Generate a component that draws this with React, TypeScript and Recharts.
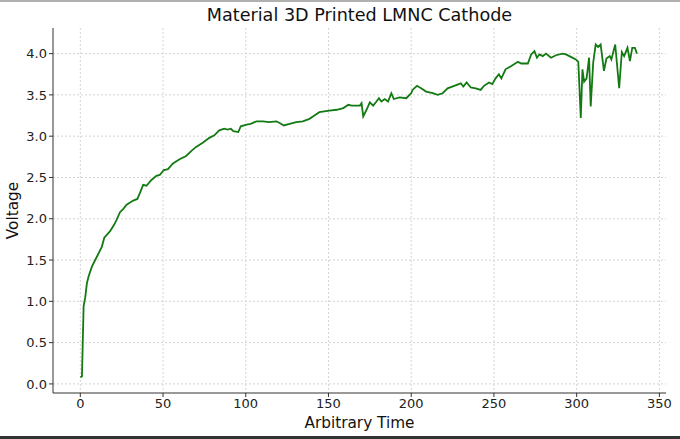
import { LineChart, Line, XAxis, YAxis, CartesianGrid } from 'recharts';

const times = [
  0, 1, 2, 3, 4, 5, 7, 10, 13, 14.5, 18, 20.5, 22, 24, 26, 28, 32, 34.5, 36, 38, 40, 43, 46, 48,
  50.5, 53, 56, 60, 64, 67, 70, 74, 78, 81, 84, 87, 89, 91, 92.5, 95.5, 97, 100.5, 103, 106.5,
  110.5, 114, 118.5, 120.5, 123, 126.5, 130.5, 134.5, 138.5, 141.5, 144.5, 150.5, 155, 159, 162,
  164, 169, 170, 171, 173, 175, 177, 179, 180.5, 182, 184, 186, 188, 189.5, 193, 197, 200, 200.8,
  203.5, 206, 209, 213, 216, 219, 222, 226, 230, 231.5, 233.5, 236, 239, 242, 244, 247, 249, 251,
  253, 254.5, 257, 260.5, 264.5, 266.5, 270.5, 272.5, 274.5, 276, 277.5, 279.5, 281.5, 284.5,
  287.5, 291.5, 293.5, 296.5, 299.5, 301, 302.5, 303.5, 304.5, 306, 307.5, 308.5, 310, 311.5, 313,
  314.5, 316.5, 318, 320, 321, 323.3, 325.7, 327.3, 328.7, 330.7, 332.2, 333.6, 335.2, 336.4,
];

const voltages = [
  0.08, 0.09, 0.94, 1.05, 1.22, 1.3, 1.42, 1.54, 1.66, 1.77, 1.85, 1.93, 1.99, 2.08, 2.12, 2.17,
  2.22, 2.24, 2.31, 2.41, 2.4, 2.47, 2.52, 2.53, 2.59, 2.6, 2.67, 2.72, 2.76, 2.82, 2.87, 2.92,
  2.98, 3.01, 3.07, 3.09, 3.08, 3.09, 3.06, 3.05, 3.12, 3.14, 3.15, 3.18, 3.18, 3.17, 3.18, 3.16,
  3.13, 3.15, 3.17, 3.18, 3.21, 3.25, 3.29, 3.31, 3.32, 3.34, 3.38, 3.37, 3.37, 3.4, 3.24, 3.32,
  3.41, 3.37, 3.42, 3.46, 3.42, 3.45, 3.42, 3.52, 3.45, 3.47, 3.46, 3.52, 3.56, 3.61, 3.58, 3.54,
  3.52, 3.5, 3.52, 3.58, 3.61, 3.64, 3.6, 3.65, 3.59, 3.58, 3.56, 3.61, 3.65, 3.63, 3.7, 3.75,
  3.7, 3.81, 3.85, 3.9, 3.88, 3.88, 3.99, 4.03, 3.95, 3.99, 3.97, 4.0, 3.95, 3.98, 4.0, 3.99,
  3.96, 3.93, 3.9, 3.22, 3.81, 3.66, 3.7, 3.95, 3.36, 3.89, 4.11, 4.08, 4.11, 3.79, 3.94, 3.97,
  3.93, 4.11, 3.58, 4.02, 3.97, 4.07, 3.91, 4.07, 4.07, 4.0,
];

const xTicks = [0, 50, 100, 150, 200, 250, 300, 350];
const yTicks = [0, 0.5, 1, 1.5, 2, 2.5, 3, 3.5, 4];

const data = times.map((t, i) => ({ t, v: voltages[i] }));

const FONT = '"DejaVu Sans", sans-serif';
const tickStyle = { fill: '#222', fontSize: 13, fontFamily: FONT };

export default function App() {
  return (
    <div style={{ position: 'absolute', left: 0, top: 0, width: 680, height: 439, background: '#fff' }}>
      <div style={{ position: 'absolute', left: 0, top: 0, width: 680, height: 2, background: '#b0b0b0' }} />
      <div style={{ position: 'absolute', left: 0, top: 436, width: 680, height: 3, background: '#333' }} />
      <div
        style={{
          position: 'absolute',
          left: 53,
          width: 613,
          top: 5,
          textAlign: 'center',
          fontFamily: FONT,
          fontSize: 17.6,
          color: '#111',
        }}
      >
        Material 3D Printed LMNC Cathode
      </div>
      <LineChart width={680} height={439} data={data} margin={{ top: 28, right: 14, left: 0, bottom: 11 }}>
        <CartesianGrid stroke="#d4d4d4" strokeDasharray="2 2" verticalValues={xTicks} horizontalValues={yTicks} />
        <XAxis
          dataKey="t"
          type="number"
          domain={[-16.5, 354]}
          ticks={xTicks}
          allowDataOverflow
          height={35}
          tick={tickStyle}
          stroke="#333"
          tickSize={4}
          label={{ value: 'Arbitrary Time', position: 'insideBottom', offset: 0, fill: '#111', fontSize: 15.3, fontFamily: FONT }}
        />
        <YAxis
          type="number"
          domain={[-0.11, 4.31]}
          ticks={yTicks}
          allowDataOverflow
          width={53}
          tick={tickStyle}
          tickFormatter={(v) => v.toFixed(1)}
          stroke="#333"
          tickSize={4}
          label={{
            value: 'Voltage',
            angle: -90,
            position: 'insideLeft',
            offset: 13,
            fill: '#111',
            fontSize: 15.3,
            fontFamily: FONT,
            style: { textAnchor: 'middle' },
          }}
        />
        <Line type="linear" dataKey="v" stroke="#137a13" strokeWidth={1.8} dot={false} isAnimationActive={false} />
      </LineChart>
    </div>
  );
}
